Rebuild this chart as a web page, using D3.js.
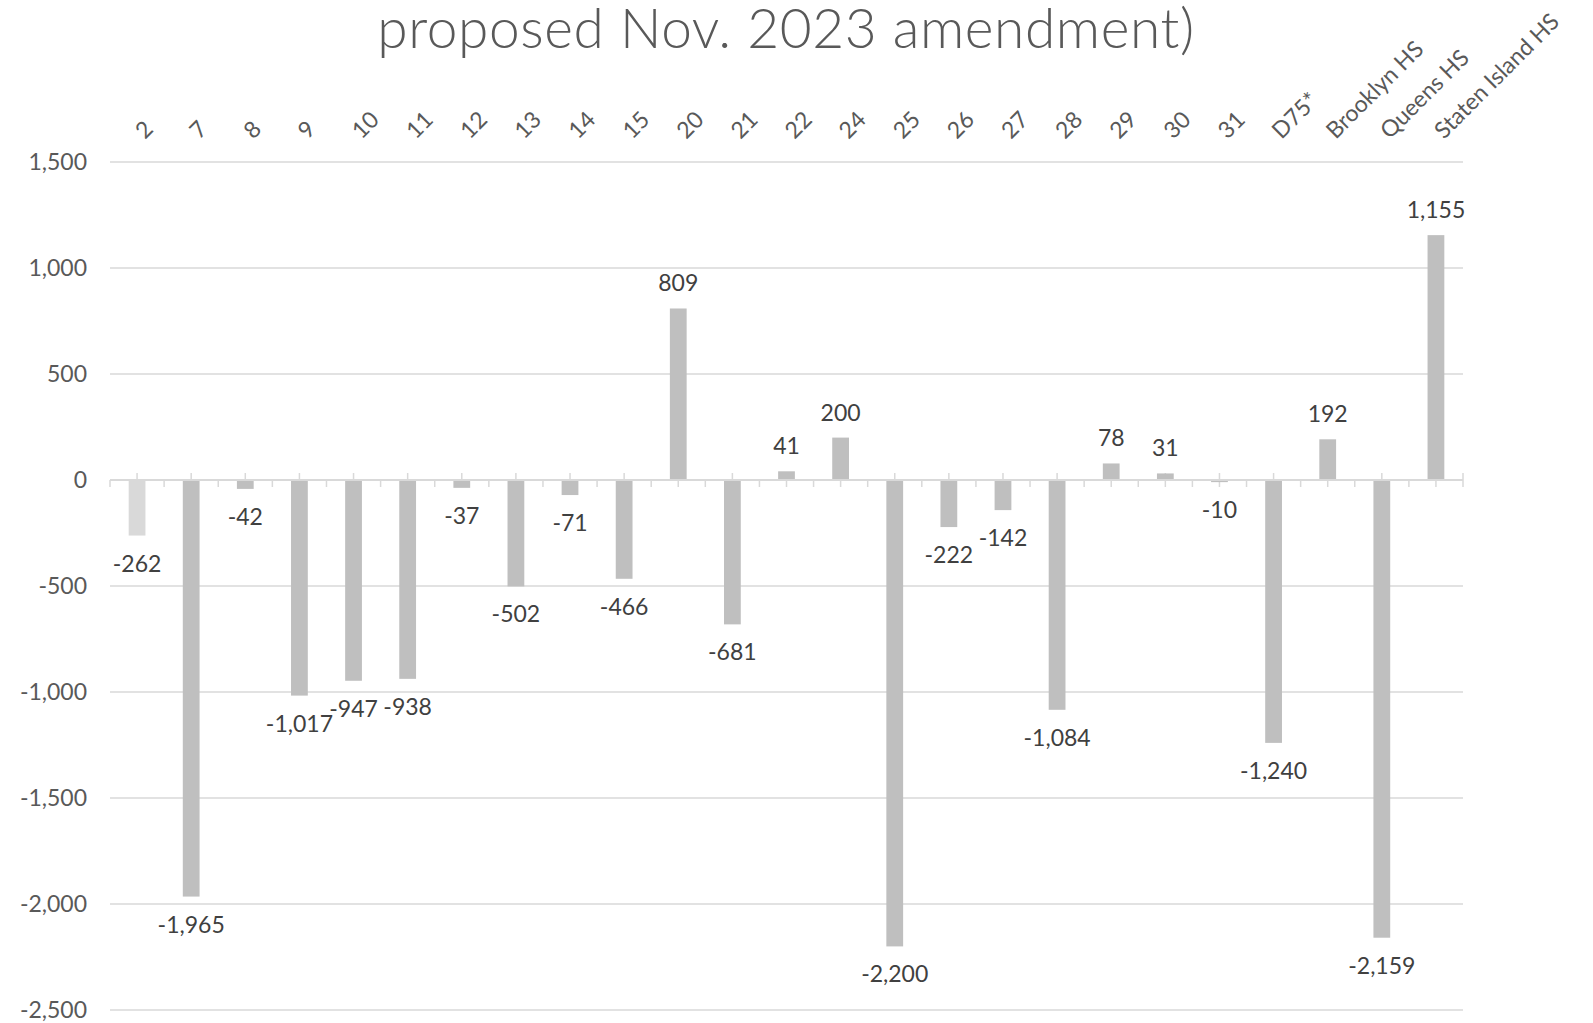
<!DOCTYPE html>
<html>
<head>
<meta charset="utf-8">
<script src="https://cdn.jsdelivr.net/npm/d3@7"></script>
<style>
  body { margin: 0; background: #fff; }
  text { font-family: Lato, "Noto Sans", sans-serif; }
</style>
</head>
<body>
<script>
// categories (districts) and change in seats
var districts = ["2", "7", "8", "9", "10", "11", "12", "13", "14", "15", "20", "21", "22", "24",
  "25", "26", "27", "28", "29", "30", "31", "D75*", "Brooklyn HS", "Queens HS", "Staten Island HS"];
var changes = [-262, -1965, -42, -1017, -947, -938, -37, -502, -71, -466, 809, -681, 41, 200,
  -2200, -222, -142, -1084, 78, 31, -10, -1240, 192, -2159, 1155];
var yTicks = [1500, 1000, 500, 0, -500, -1000, -1500, -2000, -2500];
var titleLine = "proposed Nov. 2023 amendment)";

var width = 1593, height = 1023;
var plotLeft = 110, plotRight = 1463, plotTop = 162, plotBottom = 1010;

// plain hyphen for negatives, like the original
var fmt = d3.formatLocale({decimal: ".", thousands: ",", grouping: [3], currency: ["$", ""], minus: "-"}).format(",");

var svg = d3.select("body").append("svg")
  .attr("width", width)
  .attr("height", height);

var x = d3.scaleBand().domain(districts).range([plotLeft, plotRight]).paddingInner(0.69).paddingOuter(0.345);
var xb = d3.scaleBand().domain(districts).range([plotLeft, plotRight]);
var y = d3.scaleLinear().domain([-2500, 1500]).range([plotBottom, plotTop]);

// title (only its second line is in view)
svg.append("text")
  .attr("x", 786)
  .attr("y", 48)
  .attr("text-anchor", "middle")
  .attr("fill", "#595959")
  .attr("font-size", 55)
  .attr("font-weight", 300)
  .attr("letter-spacing", 0.6)
  .text(titleLine);

// gridlines
svg.selectAll(".grid")
  .data(yTicks.filter(function(d) { return d != 0; }))
  .enter().append("line")
  .attr("x1", plotLeft).attr("x2", plotRight)
  .attr("y1", function(d) { return y(d); })
  .attr("y2", function(d) { return y(d); })
  .attr("stroke", "#d9d9d9")
  .attr("stroke-width", 1.5);

// y tick labels
svg.selectAll(".ylab")
  .data(yTicks)
  .enter().append("text")
  .attr("x", 87)
  .attr("y", function(d) { return y(d) + 8; })
  .attr("text-anchor", "end")
  .attr("fill", "#595959")
  .attr("font-size", 23)
  .text(function(d) { return fmt(d); });

// tick marks on the zero axis
var y0 = y(0);
svg.selectAll(".ctick")
  .data(districts)
  .enter().append("line")
  .attr("x1", function(d) { return xb(d) + xb.bandwidth() / 2; })
  .attr("x2", function(d) { return xb(d) + xb.bandwidth() / 2; })
  .attr("y1", y0 - 7).attr("y2", y0 + 7)
  .attr("stroke", "#d9d9d9").attr("stroke-width", 1.5);
svg.selectAll(".btick")
  .data(districts.concat(["end"]))
  .enter().append("line")
  .attr("x1", function(d, i) { return plotLeft + i * xb.bandwidth(); })
  .attr("x2", function(d, i) { return plotLeft + i * xb.bandwidth(); })
  .attr("y1", function(d, i) { return i == districts.length ? y0 - 7 : y0; })
  .attr("y2", y0 + 7)
  .attr("stroke", "#d9d9d9").attr("stroke-width", 1.5);

// bars
svg.selectAll(".bar")
  .data(changes)
  .enter().append("rect")
  .attr("x", function(d, i) { return x(districts[i]); })
  .attr("width", x.bandwidth())
  .attr("y", function(d) { return y(Math.max(0, d)); })
  .attr("height", function(d) { return Math.abs(y(d) - y(0)); })
  .attr("fill", function(d, i) { return i == 0 ? "#d9d9d9" : "#bfbfbf"; });

// zero axis line
svg.append("line")
  .attr("x1", plotLeft).attr("x2", plotRight)
  .attr("y1", y0).attr("y2", y0)
  .attr("stroke", "#d9d9d9").attr("stroke-width", 2);

// data labels
svg.selectAll(".dlab")
  .data(changes)
  .enter().append("text")
  .attr("x", function(d, i) { return xb(districts[i]) + xb.bandwidth() / 2; })
  .attr("y", function(d) { return d >= 0 ? y(d) - 17 : y(d) + 36; })
  .attr("text-anchor", "middle")
  .attr("fill", "#404040")
  .attr("font-size", 23)
  .text(function(d) { return fmt(d); });

// category labels along the top, rotated
svg.selectAll(".xlab")
  .data(districts)
  .enter().append("text")
  .attr("transform", function(d) {
    return "translate(" + (xb(d) + xb.bandwidth() / 2 + 8) + ",140) rotate(-45)";
  })
  .attr("fill", "#595959")
  .attr("font-size", 23)
  .text(function(d) { return d; });
</script>
</body>
</html>
